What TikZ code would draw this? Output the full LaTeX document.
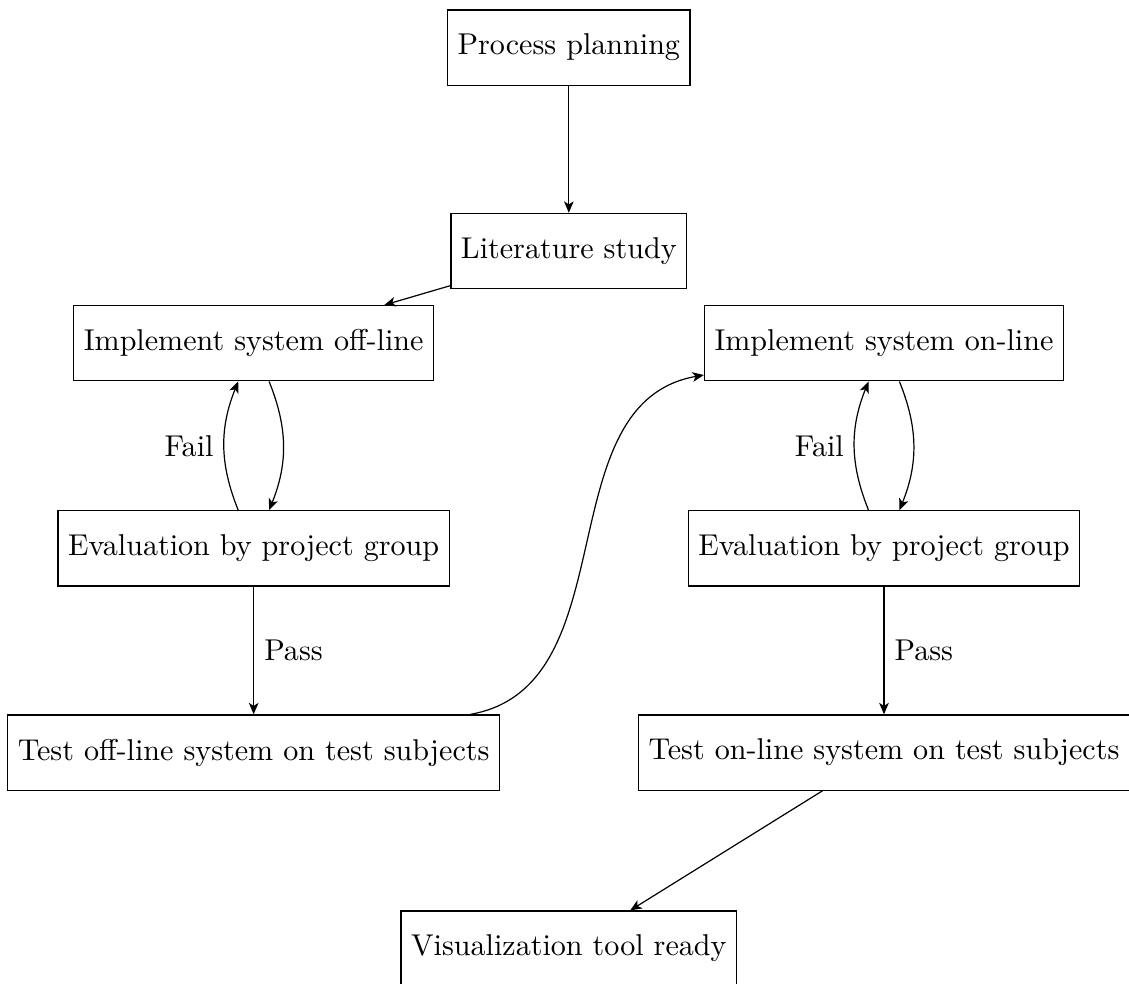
\documentclass[tikz,border=0pt]{standalone}
\usetikzlibrary{arrows.meta}
\tikzset{
  flow chart/.style={
    line width=0.4pt,
    >={Stealth[length=3.8pt,width=3.2pt,inset=1pt]}
  },
  flow box/.style={draw, rectangle, minimum height=2.5em},
  flow loop/.style={->, bend left=22}
}

\begin{document}
\begin{tikzpicture}[flow chart]
  \useasboundingbox (-6.642,0.555) rectangle (6.541,-10.924);
  \node[flow box] (plan) at (0,0) {Process planning};
  \node[flow box] (lit) at (0,-2.376) {Literature study};
  \node[flow box] (offImpl) at (-3.68,-3.453) {Implement system off-line};
  \node[flow box] (onImpl) at (3.68,-3.453) {Implement system on-line};
  \node[flow box] (offEval) at (-3.68,-5.848) {Evaluation by project group};
  \node[flow box] (onEval) at (3.68,-5.848) {Evaluation by project group};
  \node[flow box] (offTest) at (-3.68,-8.232) {Test off-line system on test subjects};
  \node[flow box] (onTest) at (3.68,-8.232) {Test on-line system on test subjects};
  \node[flow box] (ready) at (0,-10.521) {Visualization tool ready};
  % off-line branch
  \draw[->] (plan) -- (lit);
  \draw[->] (lit) -- (offImpl);
  \draw[flow loop] (offImpl) to (offEval);
  \draw[flow loop] (offEval) to node[left] (offFail) {Fail} (offImpl);
  \draw[->] (offEval) -- node[right] (offPass) {Pass} (offTest);
  \draw[->] (offTest) to[out=10,in=190] (onImpl);
  % on-line branch
  \draw[flow loop] (onImpl) to (onEval);
  \draw[flow loop] (onEval) to node[left] (onFail) {Fail} (onImpl);
  \draw[->] (onEval) -- node[right] (onPass) {Pass} (onTest);
  \draw[->] (onTest) -- (ready);
\end{tikzpicture}
\end{document}
